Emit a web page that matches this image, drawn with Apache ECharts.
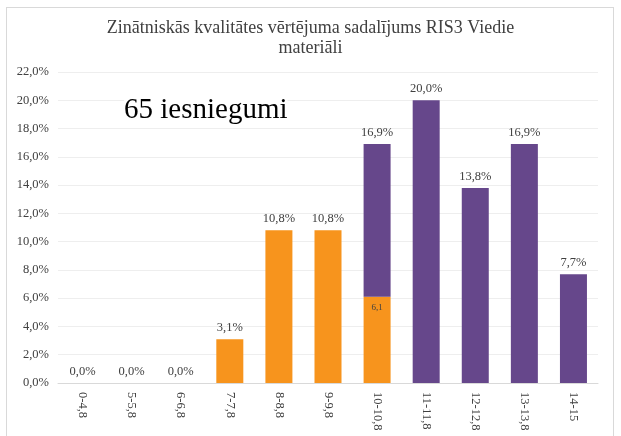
<!DOCTYPE html>
<html>
<head>
<meta charset="utf-8">
<script src="https://cdn.jsdelivr.net/npm/echarts@6/dist/echarts.min.js"></script>
<style>
  html, body { margin: 0; padding: 0; background: #fff; }
  #frame { position: absolute; left: 6px; top: 7px; width: 608px; height: 440px; border: 1px solid #d9d9d9; box-sizing: border-box; }
  #chart { position: absolute; left: 0; top: 0; width: 621px; height: 436px; }
</style>
</head>
<body>
<div id="frame"></div>
<div id="chart"></div>
<script>
// vērtējuma intervāli
const categories = ['0-4,8', '5-5,8', '6-6,8', '7-7,8', '8-8,8', '9-9,8', '10-10,8', '11-11,8', '12-12,8', '13-13,8', '14-15']
// oranžā daļa (%)
const orangeValues = [0, 0, 0, 3.1, 10.8, 10.8, 6.1, null, null, null, null]
// violetā daļa (%)
const purpleValues = [null, null, null, null, null, null, 10.8, 20.0, 13.8, 16.9, 7.7]
// kopā virs stabiņa
const totals = [0, 0, 0, 3.1, 10.8, 10.8, 16.9, 20.0, 13.8, 16.9, 7.7]
const yTicks = { min: 0, max: 22, interval: 2 }

const fmt = v => v.toFixed(1).replace('.', ',')
const serif = 'Liberation Serif'

const orangeData = orangeValues.map((v, i) => {
  if (v === null) return '-'
  if (purpleValues[i] !== null) {
    return {
      value: v,
      label: { show: true, position: 'insideTop', distance: 6, fontSize: 9, formatter: fmt(v) }
    }
  }
  return { value: v, label: { show: true, position: 'top', formatter: fmt(totals[i]) + '%' } }
})
const purpleData = purpleValues.map((v, i) => {
  if (v === null) return '-'
  return { value: v, label: { show: true, position: 'top', formatter: fmt(totals[i]) + '%' } }
})

const chart = echarts.init(document.getElementById('chart'))
chart.setOption({
  animation: false,
  title: {
    text: 'Zinātniskās kvalitātes vērtējuma sadalījums RIS3 Viedie\nmateriāli',
    left: 'center',
    top: 13,
    textStyle: { fontFamily: serif, fontSize: 18, fontWeight: 'normal', color: '#404040', lineHeight: 20 }
  },
  graphic: [{
    type: 'text',
    left: 124,
    top: 94,
    z: 100,
    style: {
      text: '65 iesniegumi', fontFamily: serif, fontSize: 29, fill: '#000',
      backgroundColor: '#fff', padding: [2, 0, 2, 0]
    }
  }],
  grid: { left: 58, right: 23, top: 72, bottom: 53 },
  xAxis: {
    type: 'category',
    data: categories,
    axisLine: { lineStyle: { color: '#d9d9d9', width: 1 } },
    axisTick: { show: false },
    axisLabel: { rotate: -90, fontFamily: serif, fontSize: 12.5, color: '#404040', margin: 9 }
  },
  yAxis: {
    type: 'value',
    min: yTicks.min,
    max: yTicks.max,
    interval: yTicks.interval,
    axisLine: { show: false },
    axisTick: { show: false },
    splitLine: { lineStyle: { color: '#eeeeee' } },
    axisLabel: { fontFamily: serif, fontSize: 12.5, color: '#404040', margin: 9, formatter: v => fmt(v) + '%' }
  },
  series: [
    {
      name: 'oranžā',
      type: 'bar',
      stack: 'kopā',
      barWidth: '55%',
      itemStyle: { color: '#f7941d' },
      label: { fontFamily: serif, fontSize: 12.5, color: '#404040' },
      data: orangeData
    },
    {
      name: 'violetā',
      type: 'bar',
      stack: 'kopā',
      barWidth: '55%',
      itemStyle: { color: '#66478b' },
      label: { fontFamily: serif, fontSize: 12.5, color: '#404040' },
      data: purpleData
    }
  ]
})
</script>
</body>
</html>
